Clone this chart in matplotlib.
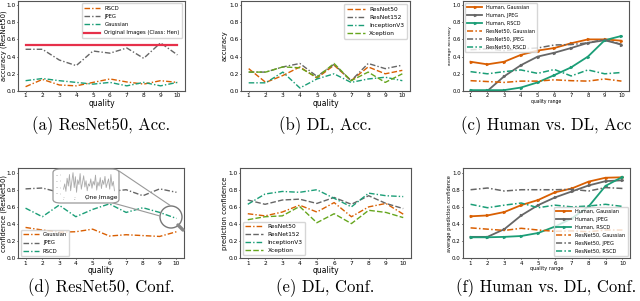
import matplotlib
matplotlib.use('Agg')
import matplotlib.pyplot as plt
from matplotlib.patches import FancyBboxPatch
from matplotlib.lines import Line2D

W, H = 640, 301

quality = [1, 2, 3, 4, 5, 6, 7, 8, 9, 10]

# (a) ResNet50 accuracy
acc_rscd = [0.05, 0.135, 0.07, 0.06, 0.10, 0.14, 0.105, 0.08, 0.12, 0.10]
acc_jpeg = [0.485, 0.485, 0.36, 0.295, 0.465, 0.44, 0.50, 0.38, 0.56, 0.42]
acc_gauss = [0.12, 0.145, 0.12, 0.10, 0.08, 0.10, 0.06, 0.10, 0.06, 0.10]
acc_orig = 0.54

# (b) DL accuracy
dl_acc_r50 = [0.26, 0.10, 0.18, 0.28, 0.15, 0.30, 0.12, 0.28, 0.20, 0.24]
dl_acc_r152 = [0.22, 0.22, 0.28, 0.32, 0.17, 0.31, 0.12, 0.32, 0.26, 0.30]
dl_acc_incep = [0.095, 0.095, 0.22, 0.035, 0.14, 0.20, 0.10, 0.14, 0.16, 0.12]
dl_acc_xcep = [0.22, 0.22, 0.28, 0.27, 0.16, 0.32, 0.12, 0.22, 0.10, 0.20]

# (c) human vs DL accuracy
hum_acc_gauss = [0.34, 0.31, 0.34, 0.42, 0.47, 0.50, 0.555, 0.60, 0.60, 0.585]
hum_acc_jpeg = [0.0, 0.0, 0.17, 0.30, 0.40, 0.445, 0.50, 0.56, 0.59, 0.54]
hum_acc_rscd = [0.01, 0.01, 0.01, 0.04, 0.10, 0.185, 0.275, 0.40, 0.59, 0.64]
rn_acc_gauss = [0.12, 0.11, 0.10, 0.115, 0.115, 0.13, 0.12, 0.115, 0.14, 0.115]
rn_acc_jpeg = [0.48, 0.49, 0.47, 0.49, 0.50, 0.535, 0.54, 0.56, 0.60, 0.54]
rn_acc_rscd = [0.225, 0.20, 0.225, 0.245, 0.205, 0.25, 0.175, 0.245, 0.20, 0.215]

# (d) ResNet50 confidence
conf_gauss = [0.36, 0.33, 0.305, 0.31, 0.34, 0.26, 0.275, 0.265, 0.255, 0.31]
conf_jpeg = [0.81, 0.82, 0.77, 0.72, 0.81, 0.78, 0.80, 0.73, 0.81, 0.77]
conf_rscd = [0.585, 0.485, 0.62, 0.485, 0.57, 0.635, 0.535, 0.59, 0.535, 0.465]
one_image = [0.45, 0.62, 0.38, 0.80, 0.55, 0.92, 0.40, 0.70, 0.98, 0.50, 0.85, 0.35,
             0.75, 0.60, 0.95, 0.45, 0.66, 0.88, 0.52, 0.72, 0.40, 0.62, 0.55, 0.78,
             0.48, 0.70, 0.58, 0.90, 0.42, 0.68, 0.55, 0.82, 0.47, 0.74, 0.60, 0.86,
             0.50, 0.65, 0.78, 0.45, 0.92, 0.55, 0.70, 0.40]

# (e) DL confidence
dl_conf_r50 = [0.52, 0.495, 0.54, 0.62, 0.54, 0.65, 0.485, 0.60, 0.64, 0.515]
dl_conf_r152 = [0.68, 0.63, 0.68, 0.69, 0.64, 0.71, 0.63, 0.73, 0.64, 0.58]
dl_conf_incep = [0.63, 0.75, 0.78, 0.77, 0.80, 0.70, 0.60, 0.76, 0.73, 0.72]
dl_conf_xcep = [0.45, 0.485, 0.495, 0.605, 0.415, 0.52, 0.405, 0.56, 0.535, 0.475]

# (f) human vs DL confidence
hum_conf_gauss = [0.49, 0.50, 0.54, 0.62, 0.68, 0.77, 0.815, 0.895, 0.94, 0.945]
hum_conf_jpeg = [0.25, 0.25, 0.34, 0.50, 0.62, 0.71, 0.78, 0.85, 0.90, 0.91]
hum_conf_rscd = [0.245, 0.245, 0.25, 0.26, 0.295, 0.37, 0.465, 0.605, 0.845, 0.95]
rn_conf_gauss = [0.355, 0.34, 0.325, 0.35, 0.33, 0.315, 0.32, 0.31, 0.33, 0.33]
rn_conf_jpeg = [0.80, 0.82, 0.785, 0.80, 0.80, 0.80, 0.805, 0.785, 0.825, 0.815]
rn_conf_rscd = [0.63, 0.59, 0.62, 0.645, 0.59, 0.62, 0.60, 0.61, 0.63, 0.605]

captions = ['(a) ResNet50, Acc.', '(b) DL, Acc.', '(c) Human vs. DL, Acc',
            '(d) ResNet50, Conf.', '(e) DL, Conf.', '(f) Human vs. DL, Conf.']

ORANGE, GRAY, TEAL, LIME, RED = '#d95f02', '#666666', '#1b9e77', '#66a61e', '#e6304a'
DD = (0, (4, 1.5, 1, 1.5))
DA = (0, (4, 1.6))

fig = plt.figure(figsize=(W / 100, H / 100), dpi=100)


def px_axes(x0, y0, x1, y1):
    # pixel box (top-left origin) -> figure fraction
    ax = fig.add_axes([x0 / W, 1 - y1 / H, (x1 - x0) / W, (y1 - y0) / H])
    ax._wpx = x1 - x0
    return ax


def px(x, y):
    return (x / W, 1 - y / H)


def style(ax, xlabel, ylabel, tick=4.2, lab=4.9, off=14):
    ax.set_ylim(0, 1.05)
    ax.set_xticks(quality)
    ax.set_yticks([0, 0.2, 0.4, 0.6, 0.8, 1.0])
    ax.set_yticklabels(['0.0', '0.2', '0.4', '0.6', '0.8', '1.0'])
    ax.tick_params(labelsize=tick, length=1, width=0.6, pad=0.6)
    for s in ax.spines.values():
        s.set_color('#555555')
        s.set_linewidth(0.8)
    ax.set_xlabel(xlabel, fontsize=lab + 0.6, labelpad=0.5)
    ax.set_ylabel(ylabel, fontsize=lab)
    ax.yaxis.set_label_coords(-off / ax._wpx, 0.5)
    ax.yaxis.label.set_va('center')


top = (0.7, 91)
bot = (168.3, 258.3)

# (a)
ax = px_axes(18, top[0], 185, top[1])
ax.plot(quality, acc_rscd, color=ORANGE, ls=DD, lw=1, label='RSCD')
ax.plot(quality, acc_jpeg, color=GRAY, ls=DD, lw=1, label='JPEG')
ax.plot(quality, acc_gauss, color=TEAL, ls=DD, lw=1, label='Gaussian')
ax.plot(quality, [acc_orig] * len(quality), color=RED, lw=1.6, label='Original Images (Class: Hen)')
style(ax, 'quality', 'accuracy (ResNet50)', off=14.1)
ax.legend(loc='upper right', fontsize=3.8, handlelength=3, borderpad=0.5, labelspacing=0.6)

# (b)
ax = px_axes(241, top[0], 410, top[1])
ax.plot(quality, dl_acc_r50, color=ORANGE, ls=DA, lw=1, label='ResNet50')
ax.plot(quality, dl_acc_r152, color=GRAY, ls=DD, lw=1, label='ResNet152')
ax.plot(quality, dl_acc_incep, color=TEAL, ls=DD, lw=1, label='InceptionV3')
ax.plot(quality, dl_acc_xcep, color=LIME, ls=DA, lw=1, label='Xception')
style(ax, 'quality', 'accuracy', off=16)
ax.legend(loc='upper right', fontsize=4.2, handlelength=3, borderpad=0.5, labelspacing=0.5)

# (c)
ax = px_axes(463, top[0], 629, top[1])
ax.plot(quality, hum_acc_gauss, color=ORANGE, lw=1.3, marker='>', ms=1.5, label='Human, Gaussian')
ax.plot(quality, hum_acc_jpeg, color=GRAY, lw=1.3, marker='>', ms=1.5, label='Human, JPEG')
ax.plot(quality, hum_acc_rscd, color=TEAL, lw=1.3, marker='>', ms=1.5, label='Human, RSCD')
ax.plot(quality, rn_acc_gauss, color=ORANGE, ls=DD, lw=1.1, label='ResNet50, Gaussian')
ax.plot(quality, rn_acc_jpeg, color=GRAY, ls=DD, lw=1.1, label='ResNet50, JPEG')
ax.plot(quality, rn_acc_rscd, color=TEAL, ls=DD, lw=1.1, label='ResNet50, RSCD')
style(ax, 'quality range', 'average accuracy', tick=3.8, lab=3.2, off=13)
ax.xaxis.label.set_fontsize(3.3)
ax.legend(loc='upper left', fontsize=3.5, handlelength=3, borderpad=0.4, labelspacing=0.6)

# (d)
ax = px_axes(18, bot[0], 184, bot[1])
ax.plot(quality, conf_gauss, color=ORANGE, ls=DD, lw=1, label='Gaussian')
ax.plot(quality, conf_jpeg, color=GRAY, ls=DD, lw=1, label='JPEG')
ax.plot(quality, conf_rscd, color=TEAL, ls=DD, lw=1, label='RSCD')
style(ax, 'quality', 'confidence (ResNet50)', off=14.1)
ax.legend(loc='lower left', fontsize=3.8, handlelength=3, borderpad=0.4, labelspacing=0.6)

# zoom decoration for one image
fig.patches.append(FancyBboxPatch(px(53, 203), 66 / W, 34 / H, transform=fig.transFigure,
                                  boxstyle='round,pad=0,rounding_size=0.012', fc='white',
                                  ec='#999999', lw=0.9, zorder=5))
ins = px_axes(61, 172, 117, 197)
ins.set_zorder(6)
ins.patch.set_alpha(0)
ins.plot(range(len(one_image)), one_image, color='#aaaaaa', lw=0.6)
ins.set_ylim(0.2, 1.0)
for s in ins.spines.values():
    s.set_visible(False)
ins.tick_params(labelsize=1.4, length=0.8, width=0.3, pad=0.5, colors='#999999')
ins.set_xticks([0, 10, 20, 30, 40])
ins.set_yticks([0.3, 0.5, 0.7, 0.9])
fig.text(101 / W, 1 - 198 / H, 'One Image', fontsize=4.2, ha='center', va='center', zorder=7)
fig.lines.append(Line2D([119 / W, 171 / W], [1 - 171 / H, 1 - 206 / H], transform=fig.transFigure,
                        color='#999999', lw=0.8))
fig.lines.append(Line2D([113 / W, 160 / W], [1 - 203 / H, 1 - 216 / H], transform=fig.transFigure,
                        color='#999999', lw=0.8))
circ = plt.Circle((171, H - 217), 11, transform=None, fill=False, ec='#777777', lw=1.0)
fig.patches.append(circ)
fig.lines.append(Line2D([178 / W, 183 / W], [1 - 225 / H, 1 - 230 / H], transform=fig.transFigure,
                        color='#888888', lw=2.5, solid_capstyle='round'))

# (e)
ax = px_axes(240, bot[0], 411, bot[1])
ax.plot(quality, dl_conf_r50, color=ORANGE, ls=DD, lw=1, label='ResNet50')
ax.plot(quality, dl_conf_r152, color=GRAY, ls=DA, lw=1, label='ResNet152')
ax.plot(quality, dl_conf_incep, color=TEAL, ls=DD, lw=1, label='InceptionV3')
ax.plot(quality, dl_conf_xcep, color=LIME, ls=DA, lw=1, label='Xception')
style(ax, 'quality', 'prediction confidence', off=15)
ax.legend(loc='lower left', fontsize=4.2, handlelength=3, borderpad=0.4, labelspacing=0.5)

# (f)
ax = px_axes(463, bot[0], 630, bot[1])
ax.plot(quality, hum_conf_gauss, color=ORANGE, lw=1.3, marker='>', ms=1.5, label='Human, Gaussian')
ax.plot(quality, hum_conf_jpeg, color=GRAY, lw=1.3, marker='>', ms=1.5, label='Human, JPEG')
ax.plot(quality, hum_conf_rscd, color=TEAL, lw=1.3, marker='>', ms=1.5, label='Human, RSCD')
ax.plot(quality, rn_conf_gauss, color=ORANGE, ls=DD, lw=1.1, label='ResNet50, Gaussian')
ax.plot(quality, rn_conf_jpeg, color=GRAY, ls=DD, lw=1.1, label='ResNet50, JPEG')
ax.plot(quality, rn_conf_rscd, color=TEAL, ls=DD, lw=1.1, label='ResNet50, RSCD')
style(ax, 'quality range', 'average prediction confidence', tick=4.0, lab=3.6, off=13.5)
ax.xaxis.label.set_fontsize(3.6)
ax.legend(loc='lower right', fontsize=3.6, handlelength=3, borderpad=0.4, labelspacing=0.6)

# captions
cx = [101, 325, 546]
for i, cap in enumerate(captions):
    y = 126 if i < 3 else 288
    fig.text(cx[i % 3] / W, 1 - y / H, cap, fontfamily='cmr10', fontsize=12,
             ha='center', va='center')

fig.savefig('out.png', dpi=100)
